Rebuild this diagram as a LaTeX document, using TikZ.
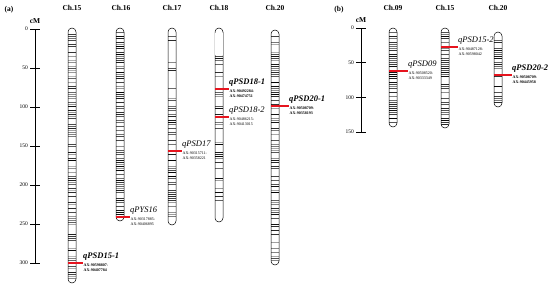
\documentclass[tikz,border=0pt]{standalone}
\usepackage{fontspec}
\setmainfont{Liberation Serif}
\definecolor{qred}{RGB}{230,20,30}
\begin{document}
\begin{tikzpicture}[x=1pt,y=-1pt,
  hdr/.style={font=\fontsize{7.5}{8}\selectfont\bfseries, inner sep=0pt},
  tick/.style={font=\fontsize{5.5}{6}\selectfont, inner sep=0pt, anchor=east},
  qtl/.style={font=\fontsize{8.5}{9}\selectfont\itshape, inner sep=0pt, anchor=south west},
  qtlb/.style={font=\fontsize{8.5}{9}\selectfont\bfseries\itshape, inner sep=0pt, anchor=south west},
  axm/.style={font=\fontsize{4}{5}\selectfont, inner sep=0pt, anchor=north west, align=left},
  axmb/.style={font=\fontsize{4}{5}\selectfont\bfseries, inner sep=0pt, anchor=north west, align=left},
  qline/.style={draw=qred, line width=1.2pt}]
\useasboundingbox (0,0) rectangle (550,287);

\newcommand\chromo[6]{%
  \pgfmathsetseed{#4}%
  \pgfmathtruncatemacro\nb{(#3-#2-6)/2}%
  \begin{scope}
    \clip[rounded corners=4pt] (#1-4,#2) rectangle (#1+4,#3);
    \foreach \k in {1,...,\nb}{%
      \pgfmathsetmacro\yy{#2+2+2*\k}%
      \pgfmathsetmacro\rr{rnd}%
      \pgfmathtruncatemacro\gray{#6+(100-#6)*rnd}%
      \ifdim\rr pt<#5pt
        \draw[black!\gray, line width=0.7pt] (#1-4,\yy) -- (#1+4,\yy);
      \fi
    }
  \end{scope}
  \draw[line width=0.5pt, rounded corners=4pt] (#1-4,#2) rectangle (#1+4,#3);
}

% labels (a),(b)
\node[hdr] (pa) at (9,10) {(a)};
\node[hdr] (pb) at (339,10) {(b)};

% headers
\node[hdr] (h15) at (72,8) {Ch.15};
\node[hdr] (h16) at (121,8) {Ch.16};
\node[hdr] (h17) at (172,8) {Ch.17};
\node[hdr] (h18) at (219,8) {Ch.18};
\node[hdr] (h20) at (275,8) {Ch.20};
\node[hdr] (hb09) at (393,8) {Ch.09};
\node[hdr] (hb15) at (445,8) {Ch.15};
\node[hdr] (hb20) at (498,8) {Ch.20};

% axis (a)
\node[hdr] (cma) at (35,21) {cM};
\draw[line width=0.7pt] (35,29) -- (35,263);
\foreach \v [count=\i from 0] in {0,50,100,150,200,250,300}{
  \draw[line width=0.7pt] (30,29+0.78*\v) -- (40,29+0.78*\v);
  \node[tick] (ta\i) at (28,29+0.78*\v) {\v};
}
% axis (b)
\node[hdr] (cmb) at (361,20) {cM};
\draw[line width=0.7pt] (361,28) -- (361,132);
\foreach \v [count=\i from 0] in {0,50,100,150}{
  \draw[line width=0.7pt] (356,28+0.693*\v) -- (366,28+0.693*\v);
  \node[tick] (tb\i) at (354,28+0.693*\v) {\v};
}

% chromosomes (a)
\chromo{72}{28}{283}{11}{0.62}{25}
\chromo{120}{28}{221}{23}{0.72}{40}
\chromo{172}{28}{225}{37}{0.45}{35}
\chromo{219}{28}{222}{41}{0.33}{30}
\fill[white] (215.3,33) rectangle (222.7,55);
\chromo{275}{30}{265}{53}{0.58}{30}
% chromosomes (b)
\chromo{393}{28}{127}{61}{0.72}{45}
\chromo{445}{28}{128}{71}{0.72}{40}
\chromo{498}{32}{107}{83}{0.78}{45}

% markers
\newcommand\qmark[7]{% x, y, offset, name, style, text, ax text
  \coordinate (#4c) at (#1-4,#2);
  \coordinate (#4e) at (#1+#3,#2);
  \path[qline] (#4c) -- (#4e);
  \node[#5] (#4t) at ([yshift=2.5pt]#4e) {#6};
  \node[#5 ax] (#4a) at ([xshift=0.5pt,yshift=-0.5pt]#4e) {#7};
}
\tikzset{qtl ax/.style={axm}, qtlb ax/.style={axmb}}

\qmark{72}{263}{11}{ma}{qtlb}{qPSD15-1}{AX-90598807-\\AX-90407784}
\qmark{120}{217}{10}{mb}{qtl}{qPYS16}{AX-90317885-\\AX-90406895}
\qmark{172}{151}{10}{mc}{qtl}{qPSD17}{AX-90315711-\\AX-90358221}
\qmark{219}{89}{10}{md}{qtlb}{qPSD18-1}{AX-90492284-\\AX-90474751}
\qmark{219}{117}{10}{me}{qtl}{qPSD18-2}{AX-90486215-\\AX-90413015}
\qmark{275}{106}{14}{mf}{qtlb}{qPSD20-1}{AX-90508709-\\AX-90358193}
\qmark{393}{71}{15}{mg}{qtl}{qPSD09}{AX-90508520-\\AX-90333349}
\qmark{445}{47}{13}{mh}{qtl}{qPSD15-2}{AX-90487128-\\AX-90598042}
\qmark{498}{75}{14}{mi}{qtlb}{qPSD20-2}{AX-90508709-\\AX-90445958}
\end{tikzpicture}
\end{document}
